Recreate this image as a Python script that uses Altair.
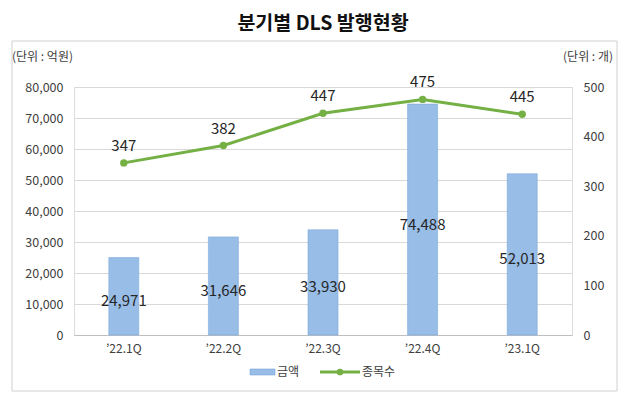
import altair as alt
import pandas as pd

quarters = ["\u201922.1Q", "\u201922.2Q", "\u201922.3Q", "\u201922.4Q", "\u201923.1Q"]
amounts = [24971, 31646, 33930, 74488, 52013]
counts = [347, 382, 447, 475, 445]

df = pd.DataFrame({"q": quarters, "amount": amounts, "count": counts})

FONT = "Noto Sans CJK KR"
BLUE = "#98BDE6"
BLUE_STROKE = "#7EA9DB"
GREEN = "#74B044"
W, H = 498, 248

base = alt.Chart(df)

xaxis = alt.Axis(labelAngle=0, ticks=False, domain=True, domainColor="#bfbfbf",
                 labelFont=FONT, labelFontSize=12, labelColor="#404040", labelPadding=8)
xenc = alt.X("q:N", sort=quarters, title=None, axis=xaxis)

ysc_l = alt.Scale(domain=[0, 80000])
ysc_r = alt.Scale(domain=[0, 500])
yaxis_l = alt.Axis(values=list(range(0, 80001, 10000)), format=",d", ticks=False, domain=False,
                   gridColor="#d9d9d9", labelFont=FONT, labelFontSize=12.5,
                   labelColor="#404040", labelPadding=11)
yaxis_r = alt.Axis(orient="right", values=list(range(0, 501, 100)), format="d", ticks=False, domain=False,
                   grid=False, labelFont=FONT, labelFontSize=12.5, labelColor="#404040",
                   labelPadding=11, labelAlign="left")

bars = base.mark_bar(size=30, color=BLUE, stroke=BLUE_STROKE, strokeWidth=0.6).encode(
    x=xenc,
    y=alt.Y("amount:Q", scale=ysc_l, title=None, axis=yaxis_l),
)

bar_labels = base.transform_calculate(mid="datum.amount / 2").mark_text(
    font=FONT, fontSize=15, color="#262626", dy=5
).encode(
    x=xenc,
    y=alt.Y("mid:Q", scale=ysc_l, title=None, axis=yaxis_l),
    text=alt.Text("amount:Q", format=",d"),
)

left = alt.layer(bars, bar_labels)

line = base.mark_line(color=GREEN, strokeWidth=3).encode(
    x=xenc,
    y=alt.Y("count:Q", scale=ysc_r, title=None, axis=yaxis_r),
)
pts = base.mark_point(filled=True, color=GREEN, size=55, opacity=1).encode(
    x=xenc,
    y=alt.Y("count:Q", scale=ysc_r, title=None, axis=yaxis_r),
)
line_labels = base.mark_text(font=FONT, fontSize=15, color="#262626", dy=-17).encode(
    x=xenc,
    y=alt.Y("count:Q", scale=ysc_r, title=None, axis=yaxis_r),
    text="count:Q",
)
right = alt.layer(line, pts, line_labels)

# decorations: frame, unit notes, legend
one = pd.DataFrame({"a": [0]})
frame = alt.Chart(one).mark_rect(
    fill=None, stroke="#d0d0d0", strokeWidth=1
).encode(x=alt.value(-62), x2=alt.value(543), y=alt.value(-46), y2=alt.value(304))

unit_l = alt.Chart(pd.DataFrame({"t": ["(단위 : 억원)"]})).mark_text(
    font=FONT, fontSize=12, color="#404040", align="left", baseline="middle"
).encode(x=alt.value(-62), y=alt.value(-30), text="t:N")
unit_r = alt.Chart(pd.DataFrame({"t": ["(단위 : 개)"]})).mark_text(
    font=FONT, fontSize=12, color="#404040", align="right", baseline="middle"
).encode(x=alt.value(539), y=alt.value(-30), text="t:N")

leg_rect = alt.Chart(one).mark_rect(color=BLUE, stroke=BLUE_STROKE, strokeWidth=0.6).encode(
    x=alt.value(176), x2=alt.value(201), y=alt.value(282), y2=alt.value(288))
leg_t1 = alt.Chart(pd.DataFrame({"t": ["금액"]})).mark_text(
    font=FONT, fontSize=12, color="#404040", align="left", baseline="middle"
).encode(x=alt.value(203), y=alt.value(285), text="t:N")
leg_line = alt.Chart(one).mark_rule(color=GREEN, strokeWidth=3).encode(
    x=alt.value(246), x2=alt.value(286), y=alt.value(285))
leg_pt = alt.Chart(one).mark_point(filled=True, color=GREEN, size=45, opacity=1).encode(
    x=alt.value(266), y=alt.value(285))
leg_t2 = alt.Chart(pd.DataFrame({"t": ["종목수"]})).mark_text(
    font=FONT, fontSize=12, color="#404040", align="left", baseline="middle"
).encode(x=alt.value(288), y=alt.value(285), text="t:N")

deco = alt.layer(frame, unit_l, unit_r, leg_rect, leg_t1, leg_line, leg_pt, leg_t2)

chart = alt.layer(left, right, deco).resolve_scale(y="independent").properties(
    width=W, height=H,
    autosize=alt.AutoSizeParams(type="none"),
    padding={"left": 66, "top": 79, "right": 50, "bottom": 65},
    title=alt.TitleParams("분기별 DLS 발행현황", font=FONT, fontSize=19.5, fontWeight="bold",
                          color="#111111", anchor="middle", offset=6),
).configure_view(stroke=None).configure(background="white")

chart.save("out.html", embed_options={"renderer": "svg", "actions": False})
